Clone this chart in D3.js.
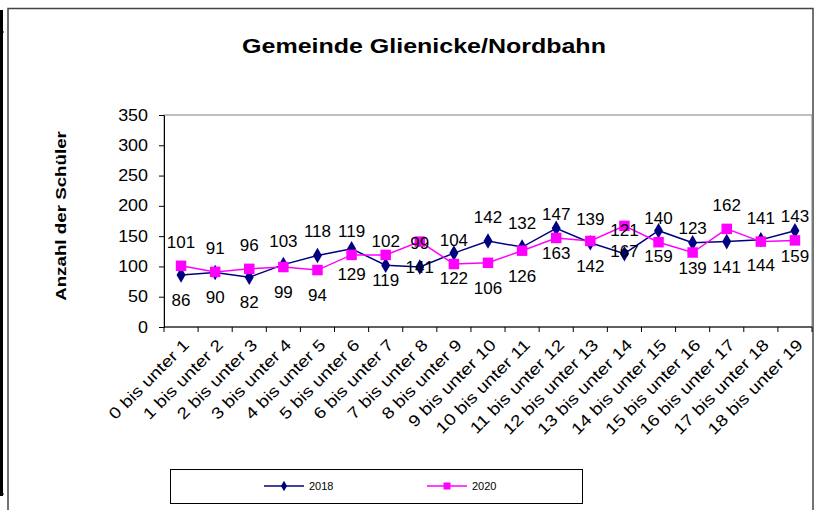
<!DOCTYPE html>
<html>
<head>
<meta charset="utf-8">
<script src="https://cdn.jsdelivr.net/npm/d3@7"></script>
<style>
  body { margin: 0; background: #fff; }
  text { font-family: Arial, "Liberation Sans", sans-serif; }
</style>
</head>
<body>
<svg id="chart" width="816" height="510"></svg>
<script>
const categories = d3.range(19).map(i => `${i} bis unter ${i + 1}`)
const values2018 = [86, 90, 82, 103, 118, 129, 102, 99, 122, 142, 132, 163, 139, 121, 159, 139, 141, 144, 159]
const values2020 = [101, 91, 96, 99, 94, 119, 119, 141, 104, 106, 126, 147, 142, 167, 140, 123, 162, 141, 143]
// which points carry the 2018 label above the marker (2020 label goes the other way)
const above2018 = [3, 4, 6, 7, 9, 10, 12, 13]
const yTicks = [0, 50, 100, 150, 200, 250, 300, 350]

const svg = d3.select('#chart')
const plot = { left: 164, right: 812, top: 115, bottom: 327 }

// frame
svg.append('line').attr('x1', 1.5).attr('x2', 1.5).attr('y1', 10).attr('y2', 496)
  .attr('stroke', '#000').attr('stroke-width', 3)
svg.append('line').attr('x1', 0).attr('x2', 4).attr('y1', 32).attr('y2', 32).attr('stroke', '#000')
svg.append('line').attr('x1', 0).attr('x2', 4).attr('y1', 494).attr('y2', 494).attr('stroke', '#000')
svg.append('rect').attr('x', 8).attr('y', 8.5).attr('width', 805).attr('height', 520)
  .attr('fill', 'none').attr('stroke', '#444').attr('stroke-width', 1.5)

svg.append('text').attr('transform', 'translate(424,53) scale(1.19,1)').attr('text-anchor', 'middle')
  .attr('font-size', 21).attr('font-weight', 'bold').text('Gemeinde Glienicke/Nordbahn')

const x = d3.scaleBand().domain(categories).range([plot.left, plot.right])
const y = d3.scaleLinear().domain([0, 350]).range([plot.bottom, plot.top])

svg.append('rect').attr('x', plot.left).attr('y', plot.top)
  .attr('width', plot.right - plot.left).attr('height', plot.bottom - plot.top)
  .attr('fill', 'none').attr('stroke', '#808080')

const yAxis = svg.append('g').attr('transform', `translate(${plot.left},0)`)
  .call(d3.axisLeft(y).tickValues(yTicks).tickSize(5).tickSizeOuter(0))
yAxis.selectAll('text').attr('font-size', 16).attr('fill', '#000').attr('font-family', 'Arial')
  .attr('transform', 'scale(1.12,1)').attr('x', -16 / 1.12)
yAxis.selectAll('line,path').attr('stroke', '#000')

// category ticks at the band edges
const xAxis = svg.append('g').attr('transform', `translate(0,${plot.bottom})`)
xAxis.append('line').attr('x1', plot.left).attr('x2', plot.right).attr('stroke', '#000')
xAxis.selectAll('line.tick').data(categories.concat(['end'])).join('line')
  .attr('class', 'tick')
  .attr('x1', (d, i) => plot.left + i * x.bandwidth())
  .attr('x2', (d, i) => plot.left + i * x.bandwidth())
  .attr('y1', 0).attr('y2', 5).attr('stroke', '#000')
xAxis.selectAll('text').data(categories).join('text')
  .attr('text-anchor', 'end')
  .attr('font-size', 16)
  .attr('transform', d => `translate(${x(d) + x.bandwidth() / 2 + 5},${15}) rotate(-45) scale(1.2,1)`)
  .attr('dy', '0.35em')
  .text(d => d)

svg.append('text')
  .attr('transform', 'translate(66,216) rotate(-90) scale(1.25,1)')
  .attr('text-anchor', 'middle').attr('font-size', 15).attr('font-weight', 'bold')
  .text('Anzahl der Schüler')

const cx = d => x(d) + x.bandwidth() / 2
const line = d3.line().x(d => cx(d[0])).y(d => y(d[1]))

const series = [
  { name: '2018', values: values2018, color: '#000080', symbol: d3.symbolDiamond, size: 70 },
  { name: '2020', values: values2020, color: '#FF00FF', symbol: d3.symbolSquare, size: 110 }
]

series.forEach((s, si) => {
  const pts = categories.map((c, i) => [c, s.values[i]])
  svg.append('path').datum(pts).attr('d', line)
    .attr('fill', 'none').attr('stroke', s.color).attr('stroke-width', 1.5)
  svg.selectAll(null).data(pts).join('path')
    .attr('transform', d => `translate(${cx(d[0])},${y(d[1])})`)
    .attr('d', d3.symbol(s.symbol, s.size))
    .attr('fill', s.color)
})

series.forEach((s, si) => {
  svg.selectAll(null).data(categories).join('text')
    .attr('x', cx)
    .attr('y', (c, i) => {
      const up = above2018.includes(i) ? si === 0 : si === 1
      return y(s.values[i]) + (up ? -24 : 25)
    })
    .attr('dy', '0.35em')
    .attr('text-anchor', 'middle')
    .attr('font-size', 17)
    .text((c, i) => s.values[i])
})

// legend
const legend = svg.append('g')
legend.append('rect').attr('x', 170.5).attr('y', 469.5).attr('width', 412).attr('height', 34)
  .attr('fill', '#fff').attr('stroke', '#000')
const legendX = [264, 427]
series.forEach((s, i) => {
  const g = legend.append('g').attr('transform', `translate(${legendX[i]},486)`)
  g.append('line').attr('x1', 0).attr('x2', 40).attr('stroke', s.color).attr('stroke-width', 1.5)
  g.append('path').attr('transform', 'translate(20,0)')
    .attr('d', d3.symbol(s.symbol, s.size * 0.45)).attr('fill', s.color)
  g.append('text').attr('x', 45).attr('dy', '0.35em').attr('font-size', 11).text(s.name)
})
</script>
</body>
</html>
